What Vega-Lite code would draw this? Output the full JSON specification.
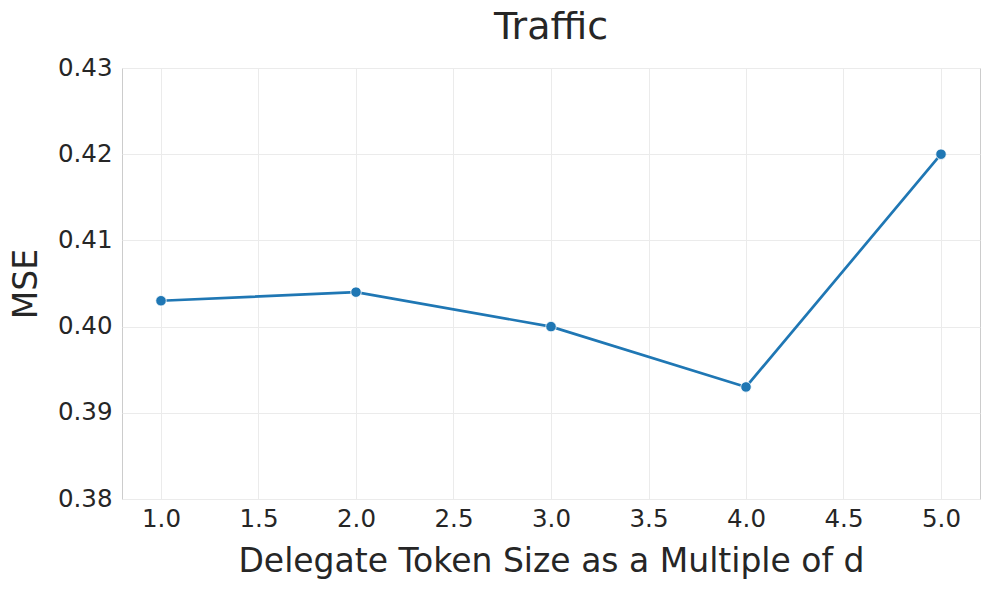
{
  "$schema": "https://vega.github.io/schema/vega-lite/v6.json",
  "autosize": {"type": "none"},
  "padding": {"left": 122, "top": 68, "right": 10, "bottom": 91},
  "width": 858,
  "height": 431,
  "background": "white",
  "title": {"text": "Traffic", "fontSize": 38, "font": "DejaVu Sans", "fontWeight": "normal", "color": "#262626", "offset": 8, "anchor": "middle"},
  "config": {
    "view": {"stroke": "#cccccc", "strokeWidth": 1},
    "axis": {"font": "DejaVu Sans", "labelFont": "DejaVu Sans", "titleFont": "DejaVu Sans", "labelColor": "#262626", "titleColor": "#262626", "gridColor": "#ebebeb", "gridWidth": 1, "domain": false, "ticks": false, "labelFontSize": 24.5, "titleFontSize": 33, "titleFontWeight": "normal"}
  },
  "data": {"values": [
    {"x": 1, "mse": 0.403},
    {"x": 2, "mse": 0.404},
    {"x": 3, "mse": 0.400},
    {"x": 4, "mse": 0.393},
    {"x": 5, "mse": 0.420}
  ]},
  "encoding": {
    "x": {"field": "x", "type": "quantitative", "scale": {"domain": [0.8, 5.2], "nice": false, "zero": false}, "axis": {"values": [1, 1.5, 2, 2.5, 3, 3.5, 4, 4.5, 5], "format": ".1f", "title": "Delegate Token Size as a Multiple of d", "labelPadding": 8, "titlePadding": 15}},
    "y": {"field": "mse", "type": "quantitative", "scale": {"domain": [0.38, 0.43], "nice": false, "zero": false}, "axis": {"values": [0.38, 0.39, 0.40, 0.41, 0.42, 0.43], "format": ".2f", "title": "MSE", "labelPadding": 10, "titlePadding": 14}}
  },
  "layer": [
    {"mark": {"type": "line", "color": "#1f77b4", "strokeWidth": 2.7}},
    {"mark": {"type": "point", "filled": true, "color": "#1f77b4", "opacity": 1, "size": 110, "stroke": "white", "strokeWidth": 0.8}}
  ]
}
